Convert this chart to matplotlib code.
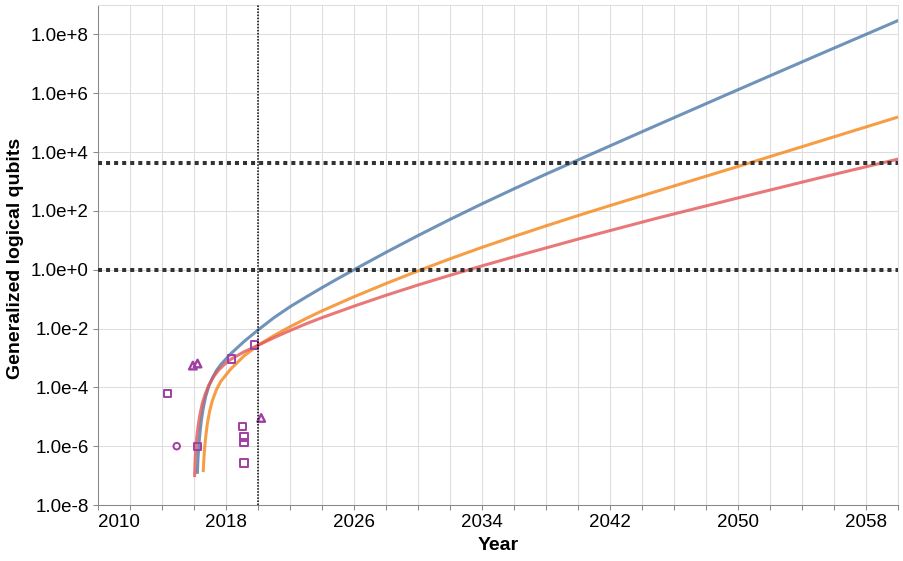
import matplotlib
matplotlib.use("Agg")
import matplotlib.pyplot as plt
from matplotlib.ticker import NullLocator
import numpy as np

plt.rcParams['font.family'] = ['Liberation Sans', 'DejaVu Sans']

# curves: year and log10(generalized logical qubits)
blue_years = [2016.21, 2016.25, 2016.31, 2016.38, 2016.46, 2016.58, 2016.73, 2016.92,
              2017.15, 2017.4, 2017.67, 2018.29, 2019.13, 2020.0, 2021.0, 2022.0,
              2023.0, 2024.0, 2025.0, 2026.0, 2028.0, 2030.0, 2032.0, 2034.0, 2036.0,
              2038.0, 2040.0, 2042.0, 2045.0, 2050.0, 2055.0, 2060.0]
blue_log = [-6.89, -6.4, -5.92, -5.5, -5.12, -4.70, -4.31, -3.97,
            -3.68, -3.43, -3.23, -2.86, -2.44, -2.05, -1.63, -1.26,
            -0.93, -0.61, -0.30, 0.0, 0.59, 1.16, 1.71, 2.24, 2.75,
            3.25, 3.73, 4.21, 4.93, 6.12, 7.30, 8.47]

orange_years = [2016.58, 2016.62, 2016.67, 2016.75, 2016.83, 2016.98, 2017.15, 2017.4,
                2017.67, 2018.29, 2019.13, 2020.0, 2021.0, 2022.0, 2023.0, 2024.0,
                2026.0, 2028.0, 2030.0, 2032.0, 2034.0, 2036.0, 2038.0, 2040.0,
                2042.0, 2045.0, 2050.0, 2055.0, 2060.0]
orange_log = [-6.83, -6.4, -6.03, -5.6, -5.25, -4.80, -4.45, -4.08,
              -3.80, -3.38, -2.93, -2.57, -2.24, -1.94, -1.66, -1.40,
              -0.92, -0.47, -0.04, 0.37, 0.76, 1.13, 1.49, 1.84,
              2.18, 2.68, 3.51, 4.35, 5.19]

red_years = [2016.04, 2016.07, 2016.10, 2016.17, 2016.25, 2016.37, 2016.52, 2016.72,
             2016.94, 2017.25, 2017.56, 2017.9, 2018.29, 2019.13, 2020.0, 2021.0,
             2022.0, 2023.0, 2024.0, 2026.0, 2028.0, 2030.0, 2032.0, 2034.0, 2036.0,
             2038.0, 2040.0, 2042.0, 2045.0, 2050.0, 2055.0, 2060.0]
red_log = [-7.0, -6.5, -6.15, -5.7, -5.34, -4.93, -4.54, -4.2,
           -3.91, -3.62, -3.40, -3.22, -3.05, -2.79, -2.57, -2.31,
           -2.07, -1.84, -1.63, -1.24, -0.87, -0.52, -0.19, 0.13, 0.44,
           0.74, 1.04, 1.33, 1.76, 2.44, 3.11, 3.76]

# experimental points
square_years = [2014.33, 2016.21, 2018.35, 2019.79, 2019.02, 2019.13, 2019.13, 2019.13]
square_log = [-4.22, -6.0, -3.04, -2.56, -5.34, -5.69, -5.88, -6.57]
circle_years = [2014.92]
circle_log = [-6.0]
triangle_years = [2015.93, 2016.22, 2020.2]
triangle_log = [-3.26, -3.19, -5.04]

thresholds = [1.0, 4099.0]
current_year = 2020

x_ticks = list(range(2010, 2061, 2))
x_labels = [str(y) if (y - 2010) % 8 == 0 else '' for y in x_ticks]
y_exps = list(range(-8, 9, 2))
y_labels = ['1.0e%+d' % k for k in y_exps]

fig = plt.figure(figsize=(9.04, 5.61), dpi=100)
ax = fig.add_axes([98 / 904, 56 / 561, 800 / 904, 500 / 561])
ax.set_yscale('log')
ax.set_xlim(2010, 2060)
ax.set_ylim(1e-8, 1e9)

ax.plot(blue_years, 10.0 ** np.array(blue_log), color='#4c78a8', alpha=0.8, lw=2.2)
ax.plot(orange_years, 10.0 ** np.array(orange_log), color='#f58518', alpha=0.8, lw=2.2)
ax.plot(red_years, 10.0 ** np.array(red_log), color='#e45756', alpha=0.8, lw=2.2)

purple = '#9f3fa3'
ax.scatter(square_years, 10.0 ** np.array(square_log), marker='s', s=28,
           facecolors='none', edgecolors=purple, linewidths=1.4, zorder=3)
ax.scatter(circle_years, 10.0 ** np.array(circle_log), marker='o', s=22,
           facecolors='none', edgecolors=purple, linewidths=1.4, zorder=3)
ax.scatter(triangle_years, 10.0 ** np.array(triangle_log), marker='^', s=30,
           facecolors='none', edgecolors=purple, linewidths=1.7, zorder=3)

for t in thresholds:
    ax.axhline(t, color='#333333', lw=2.9, dashes=(1, 1), dash_capstyle='butt', zorder=4)
ax.axvline(current_year, color='black', lw=1.1, dashes=(1, 1), zorder=4)

ax.set_xticks(x_ticks)
ax.set_xticklabels(x_labels)
ax.get_xticklabels()[0].set_horizontalalignment('left')
ax.set_yticks([10.0 ** k for k in y_exps])
ax.set_yticklabels(y_labels)
ax.yaxis.set_minor_locator(NullLocator())

ax.grid(True, color='#dddddd', lw=0.75)
ax.set_axisbelow(True)
ax.tick_params(length=3.6, width=0.75, color='#888888', labelsize=13.5, pad=3)
for side in ['left', 'bottom']:
    ax.spines[side].set_color('#888888')
    ax.spines[side].set_linewidth(0.75)
for side in ['top', 'right']:
    ax.spines[side].set_color('#dddddd')
    ax.spines[side].set_linewidth(0.75)

ax.set_xlabel('Year', fontsize=14, fontweight='bold', va='center')
ax.xaxis.set_label_coords(0.5, -41 / 500)
ax.set_ylabel('Generalized logical qubits', fontsize=14, fontweight='bold', va='center')
ax.yaxis.set_label_coords(-82 / 800, 246.5 / 500)

fig.savefig('out.png', dpi=100)
